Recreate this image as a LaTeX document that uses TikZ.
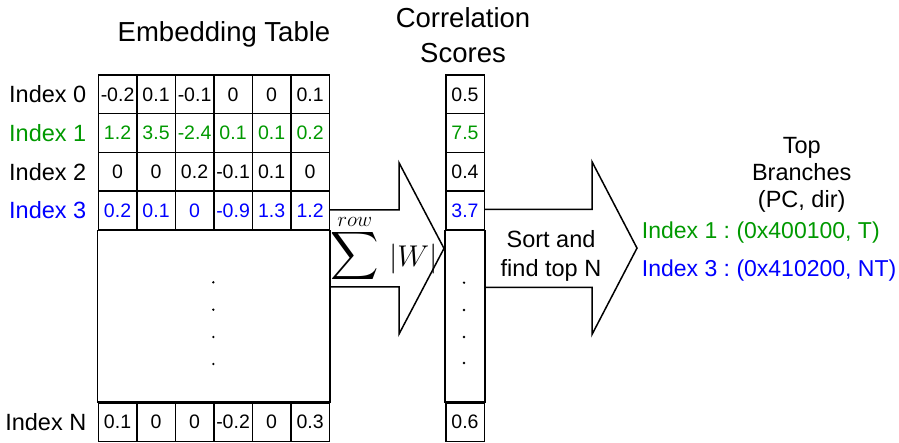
\RequirePackage{fix-cm}
\documentclass[tikz,border=0pt]{standalone}
\usepackage{amsmath}
\usepackage{fontspec}
\setmainfont{Liberation Sans}
\usepackage{xcolor}
\definecolor{RowGreen}{HTML}{009900}
\definecolor{RowBlue}{HTML}{0000FF}
\frenchspacing

\begin{document}
\begin{tikzpicture}[
    x=1pt, y=-1pt,
    every node/.style={inner sep=0pt},
    cell/.style={draw, line width=1.5pt, fill=white, minimum width=38.5pt, minimum height=38.7pt, font=\fontsize{19.5}{23}\selectfont},
    label/.style={anchor=east, font=\fontsize{23.5}{28}\selectfont},
    title/.style={anchor=base, font=\fontsize{27.5}{32}\selectfont},
    note/.style={anchor=base, font=\fontsize{23.5}{28}\selectfont},
    blockarrow/.style={draw, line width=1.5pt, line join=miter, fill=white}
  ]
  \useasboundingbox (0,0) rectangle (899,443);

  % block arrows
  \draw[blockarrow] (329.3,210) -- (399,210) -- (399,162.7) -- (444,248.4) -- (399,334.1) -- (399,287) -- (329.3,287);
  \node[font=\fontsize{30}{36}\selectfont] (sumw) at (384,249) {$\mathop{\scalebox{1.35}{$\displaystyle\sum$}}\limits^{\raisebox{-6pt}{$\scriptstyle row$}}\,|W|$};
  \draw[blockarrow] (484.2,209.5) -- (592,209.5) -- (592,161.7) -- (637,248.1) -- (592,334.5) -- (592,287.5) -- (484.2,287.5);
  \node[note] (sort1) at (551,247.7) {Sort and};
  \node[note] (sort2) at (551,276.7) {find top N};

  % embedding table rows
  \foreach \r/\y/\clr/\vals in {
      0/94.35/black/{-0.2,0.1,-0.1,0,0,0.1},
      1/133.05/RowGreen/{1.2,3.5,-2.4,0.1,0.1,0.2},
      2/171.75/black/{0,0,0.2,-0.1,0.1,0},
      3/210.45/RowBlue/{0.2,0.1,0,-0.9,1.3,1.2},
      N/422.1/black/{0.1,0,0,-0.2,0,0.3}}{
    \node[label, text=\clr] (idx-\r) at (86.5,\y) {Index \r};
    \foreach \v [count=\c from 0] in \vals
      \node[cell, text=\clr] (e-\r-\c) at (117.55+38.5*\c,\y) {\v};
  }
  \draw[line width=1.5pt] (e-3-0.south west) rectangle (e-N-5.north east);
  \foreach \y in {282.3,309.7,337,364}
    \fill (213.3,\y) circle[radius=1.3pt];

  % correlation scores
  \foreach \r/\y/\clr/\v in {0/94.35/black/0.5, 1/133.05/RowGreen/7.5, 2/171.75/black/0.4, 3/210.45/RowBlue/3.7, N/422.1/black/0.6}
    \node[cell, text=\clr] (s-\r) at (465,\y) {\v};
  \draw[line width=1.5pt] (s-3.south west) rectangle (s-N.north east);
  \foreach \y in {282.7,310,337,363}
    \fill (464,\y) circle[radius=1.3pt];

  % titles
  \node[title] (ttl-emb) at (224,41.7) {Embedding Table};
  \node[title] (ttl-corr) at (463,28) {Correlation};
  \node[title] (ttl-corr2) at (463,63) {Scores};

  % top branches
  \node[note] (top1) at (801.7,153.3) {Top};
  \node[note] (top2) at (801.7,180.5) {Branches};
  \node[note] (top3) at (801.7,208) {(PC, dir)};
  \node[note, anchor=base west, text=RowGreen, font=\fontsize{23}{28}\selectfont] (br1) at (641.7,238.3) {Index 1 : (0x400100, T)};
  \node[note, anchor=base west, text=RowBlue, font=\fontsize{23}{28}\selectfont] (br3) at (641.7,276.7) {Index 3 : (0x410200, NT)};
\end{tikzpicture}
\end{document}
